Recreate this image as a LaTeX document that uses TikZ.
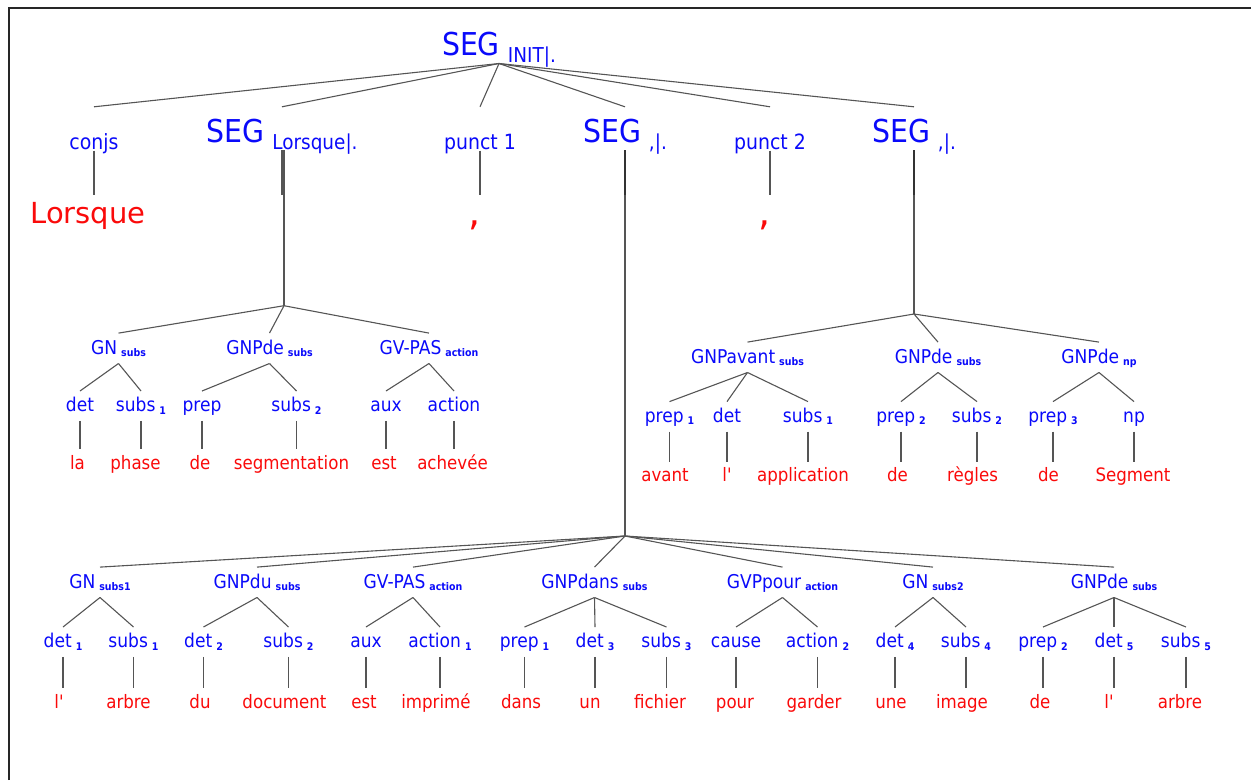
\documentclass[tikz,border=0pt]{standalone}
\usepackage{fontspec}
\setmainfont{DejaVu Sans}[FakeStretch=0.9,Ligatures=TeXOff]
\newfontfamily\widefont{DejaVu Sans}[Ligatures=TeXOff]
\usepackage{xcolor}
\definecolor{labelblue}{RGB}{10,10,250}
\definecolor{wordred} {RGB}{250,10,10}
\definecolor{edgegray}{RGB}{85,85,85}
\newcommand{\subsc}[1]{\hspace{4pt}\raisebox{-2.5pt}{\fontsize{10.5}{10.5}\selectfont\bfseries #1}}
\newcommand{\segsub}[1]{\hspace{8pt}\raisebox{-7pt}{\fontsize{20.5}{20.5}\selectfont #1}}

\begin{document}
\begin{tikzpicture}[
  x=1pt, y=-1pt,
  seg0/.style={anchor=base, inner sep=0pt, text=labelblue,
               font=\fontsize{31.5}{31.5}\selectfont, text height=28pt, text depth=8.3pt},
  seg1/.style={seg0, text height=35pt, text depth=8pt},
  cat1/.style={anchor=base, inner sep=0pt, text=labelblue,
               font=\fontsize{21}{21}\selectfont, text height=42pt, text depth=1.5pt},
  big/.style={anchor=base, inner sep=0pt, text=wordred,
              font=\widefont\fontsize{29}{29}\selectfont, text height=28.5pt, text depth=6pt},
  comma/.style={big, font=\widefont\fontsize{38}{38}\selectfont},
  phr/.style={anchor=base, inner sep=0pt, text=labelblue,
              font=\fontsize{19}{19}\selectfont, text height=21pt, text depth=9pt},
  cat/.style={phr, text height=20.5pt},
  wrd/.style={anchor=base, inner sep=0pt, text=wordred,
              font=\fontsize{18.5}{18.5}\selectfont, text height=20pt, text depth=5pt},
  e/.style={draw=edgegray, line width=1.1pt},
  stub/.style={draw=black!80, line width=1.4pt},
  frame/.style={draw=black!85, line width=1.5pt},
]
\useasboundingbox (0,0) rectangle (1251,780);
\draw[frame] (9,780) -- (9,8) -- (1251,8);

% Root
\node[seg0] (root) at (499,55) {SEG\segsub{INIT|.}};

% Level 1
\node[cat1] (conjs) at (94,149)  {conjs};
\node[seg1] (segL)  at (282,142) {SEG\segsub{Lorsque|.}};
\node[cat1] (punA)  at (480,149) {punct 1};
\node[seg1] (segM)  at (625,142) {SEG\segsub{,|.}};
\node[cat1] (punB)  at (770,149) {punct 2};
\node[seg1] (segR)  at (914,142) {SEG\segsub{,|.}};

\node[big]   (lorsque) at (88,223.5)  {Lorsque};
\node[comma] (commaA)  at (475,225)   {,};
\node[comma] (commaB)  at (764.5,225) {,};

\foreach \n in {conjs,segL,punA,segM,punB,segR}
  \draw[e] (root.south) -- (\n.north);
\draw[e] (conjs.south) -- (conjs.south |- lorsque.north);
\draw[e] (punA.south) -- (punA.south |- lorsque.north);
\draw[e] (punB.south) -- (punB.south |- lorsque.north);

% Junctions
\coordinate (jL) at (284,305.7);
\coordinate (jM) at (625,536);
\coordinate (jR) at (914,314);
\draw[e] (segL.south) -- (segL.south |- lorsque.north);
\draw[e] ([xshift=2pt]segL.south) -- (jL);
\draw[e] (segM.south) -- (jM);  \draw[stub] (segM.south) -- (segM.south |- lorsque.north);
\draw[e] (segR.south) -- (jR);  \draw[stub] (segR.south) -- (segR.south |- lorsque.north);

% Left subtree
\node[phr] (lGN)  at (118.5,354.3) {GN\subsc{subs}};
\node[phr] (lGNP) at (269.5,354.3) {GNPde\subsc{subs}};
\node[phr] (lGV)  at (429,354.3)   {GV-PAS\subsc{action}};

\node[cat] (lDet)   at (80,411.7)    {det};
\node[cat] (lSubsA) at (141,411.7)   {subs\subsc{1}};
\node[cat] (lPrep)  at (202,411.7)   {prep};
\node[cat] (lSubsB) at (296.5,411.7) {subs\subsc{2}};
\node[cat] (lAux)   at (386,411.7)   {aux};
\node[cat] (lAct)   at (454,411.7)   {action};

\node[wrd] (wLa)    at (77.5,469)  {la};
\node[wrd] (wPhase) at (135.5,469) {phase};
\node[wrd] (wDe)    at (200,469)   {de};
\node[wrd] (wSeg)   at (291.5,469) {segmentation};
\node[wrd] (wEst)   at (384,469)   {est};
\node[wrd] (wAch)   at (452.5,469) {achevée};

\foreach \n in {lGN,lGNP,lGV} \draw[e] (jL) -- (\n.north);
\foreach \a/\b in {lGN/lDet,lGN/lSubsA,lGNP/lPrep,lGNP/lSubsB,lGV/lAux,lGV/lAct}
  \draw[e] (\a.south) -- (\b.north);
\foreach \a/\b in {lDet/wLa,lSubsA/wPhase,lPrep/wDe,lSubsB/wSeg,lAux/wEst,lAct/wAch}
  \draw[e] (\a.south) -- (\a.south |- \b.north);

% Right subtree
\node[phr] (rGNPa) at (747.5,363.3) {GNPavant\subsc{subs}};
\node[phr] (rGNPb) at (938,363.3)   {GNPde\subsc{subs}};
\node[phr] (rGNPc) at (1099,363.3)  {GNPde\subsc{np}};

\node[cat] (rPrepA) at (669.5,422.3) {prep\subsc{1}};
\node[cat] (rDet)   at (727,422.3)   {det};
\node[cat] (rSubsA) at (808,422.3)   {subs\subsc{1}};
\node[cat] (rPrepB) at (901,422.3)   {prep\subsc{2}};
\node[cat] (rSubsB) at (977,422.3)   {subs\subsc{2}};
\node[cat] (rPrepC) at (1053,422.3)  {prep\subsc{3}};
\node[cat] (rNp)    at (1134,422.3)  {np};

\node[wrd] (wAvant)  at (665,481.7)    {avant};
\node[wrd] (wLr)     at (727,481.7)    {l'};
\node[wrd] (wAppl)   at (803,481.7)    {application};
\node[wrd] (wDeB)    at (897.5,481.7)  {de};
\node[wrd] (wRegles) at (972.5,481.7)  {règles};
\node[wrd] (wDeC)    at (1048.5,481.7) {de};
\node[wrd] (wSegm)   at (1133,481.7)   {Segment};

\foreach \n in {rGNPa,rGNPb,rGNPc} \draw[e] (jR) -- (\n.north);
\foreach \a/\b in {rGNPa/rPrepA,rGNPa/rDet,rGNPa/rSubsA,rGNPb/rPrepB,rGNPb/rSubsB,
                   rGNPc/rPrepC,rGNPc/rNp}
  \draw[e] (\a.south) -- (\b.north);
\foreach \a/\b in {rPrepA/wAvant,rDet/wLr,rSubsA/wAppl,rPrepB/wDeB,rSubsB/wRegles,
                   rPrepC/wDeC,rNp/wSegm}
  \draw[e] (\a.south) -- (\a.south |- \b.north);

% Bottom subtree
\node[phr] (bGNa)     at (100,588.3)   {GN\subsc{subs1}};
\node[phr] (bGNPdu)   at (257,588.3)   {GNPdu\subsc{subs}};
\node[phr] (bGV)      at (413,588.3)   {GV-PAS\subsc{action}};
\node[phr] (bGNPdans) at (594.5,588.3) {GNPdans\subsc{subs}};
\node[phr] (bGVP)     at (782.5,588.3) {GVPpour\subsc{action}};
\node[phr] (bGNb)     at (933,588.3)   {GN\subsc{subs2}};
\node[phr] (bGNPde)   at (1114,588.3)  {GNPde\subsc{subs}};

\node[cat] (bDetA)  at (63,647.7)    {det\subsc{1}};
\node[cat] (bSubsA) at (133.5,647.7) {subs\subsc{1}};
\node[cat] (bDetB)  at (203.5,647.7) {det\subsc{2}};
\node[cat] (bSubsB) at (288.5,647.7) {subs\subsc{2}};
\node[cat] (bAux)   at (366,647.7)   {aux};
\node[cat] (bActA)  at (440,647.7)   {action\subsc{1}};
\node[cat] (bPrepA) at (524.5,647.7) {prep\subsc{1}};
\node[cat] (bDetC)  at (595,647.7)   {det\subsc{3}};
\node[cat] (bSubsC) at (666.5,647.7) {subs\subsc{3}};
\node[cat] (bCause) at (736,647.7)   {cause};
\node[cat] (bActB)  at (817.5,647.7) {action\subsc{2}};
\node[cat] (bDetD)  at (895,647.7)   {det\subsc{4}};
\node[cat] (bSubsD) at (966,647.7)   {subs\subsc{4}};
\node[cat] (bPrepB) at (1043,647.7)  {prep\subsc{2}};
\node[cat] (bDetE)  at (1114,647.7)  {det\subsc{5}};
\node[cat] (bSubsE) at (1186,647.7)  {subs\subsc{5}};

\node[wrd] (wL)      at (59,708.3)    {l'};
\node[wrd] (wArbreA) at (128.5,708.3) {arbre};
\node[wrd] (wDu)     at (200,708.3)   {du};
\node[wrd] (wDoc)    at (284.5,708.3) {document};
\node[wrd] (wEstB)   at (364,708.3)   {est};
\node[wrd] (wImpr)   at (436,708.3)   {imprimé};
\node[wrd] (wDans)   at (521,708.3)   {dans};
\node[wrd] (wUn)     at (590,708.3)   {un};
\node[wrd] (wFich)   at (660,708.3)   {fichier};
\node[wrd] (wPour)   at (735,708.3)   {pour};
\node[wrd] (wGard)   at (814,708.3)   {garder};
\node[wrd] (wUne)    at (891,708.3)   {une};
\node[wrd] (wImage)  at (962,708.3)   {image};
\node[wrd] (wDeD)    at (1040,708.3)  {de};
\node[wrd] (wLb)     at (1109,708.3)  {l'};
\node[wrd] (wArbreB) at (1180,708.3)  {arbre};

\foreach \n in {bGNa,bGNPdu,bGV,bGNPdans,bGVP,bGNb,bGNPde} \draw[e] (jM) -- (\n.north);
\foreach \a/\b in {bGNa/bDetA,bGNa/bSubsA,bGNPdu/bDetB,bGNPdu/bSubsB,bGV/bAux,bGV/bActA,
                   bGNPdans/bPrepA,bGNPdans/bDetC,bGNPdans/bSubsC,bGVP/bCause,bGVP/bActB,
                   bGNb/bDetD,bGNb/bSubsD,bGNPde/bPrepB,bGNPde/bDetE,bGNPde/bSubsE}
  \draw[e] (\a.south) -- (\b.north);
\foreach \a/\b in {bDetA/wL,bSubsA/wArbreA,bDetB/wDu,bSubsB/wDoc,bAux/wEstB,bActA/wImpr,
                   bPrepA/wDans,bDetC/wUn,bSubsC/wFich,bCause/wPour,bActB/wGard,
                   bDetD/wUne,bSubsD/wImage,bPrepB/wDeD,bDetE/wLb,bSubsE/wArbreB}
  \draw[e] (\a.south) -- (\a.south |- \b.north);

\end{tikzpicture}
\end{document}
